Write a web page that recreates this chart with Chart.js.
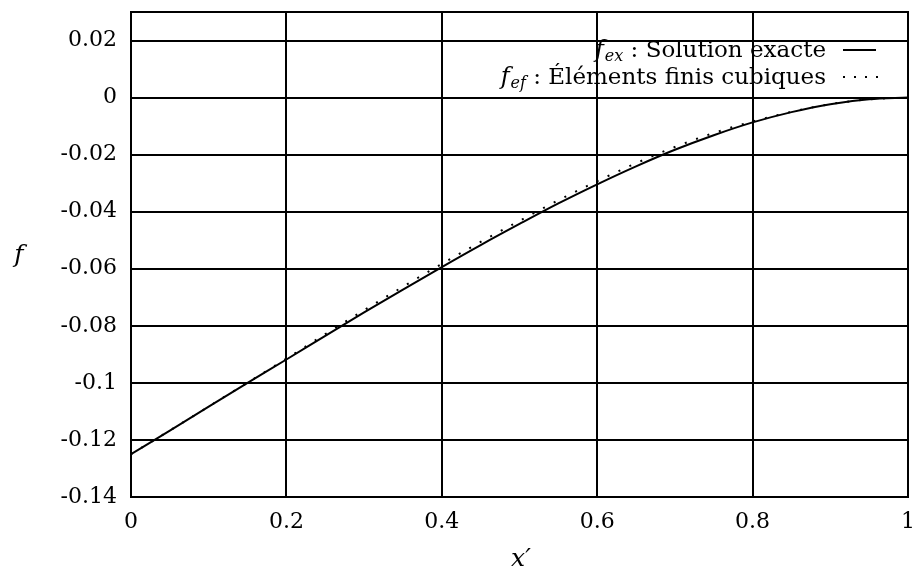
<!DOCTYPE html>
<html>
<head>
<meta charset="utf-8">
<script src="https://cdn.jsdelivr.net/npm/chart.js@4.4.0/dist/chart.umd.min.js"></script>
<style>
  html, body { margin: 0; padding: 0; background: #fff; }
  #wrap { width: 915px; height: 572px; }
</style>
</head>
<body>
<div id="wrap"><canvas id="chart" width="915" height="572"></canvas></div>
<script>
// x' positions
const xValues = [0, 0.05, 0.1, 0.15, 0.2, 0.25, 0.3, 0.35, 0.4, 0.45, 0.5,
                 0.55, 0.6, 0.65, 0.7, 0.75, 0.8, 0.85, 0.9, 0.95, 1];
// f_ex : exact solution
const exactValues = [-0.1250, -0.1167, -0.1083, -0.1000, -0.0918, -0.0835, -0.0753,
                     -0.0673, -0.0594, -0.0517, -0.0443, -0.0371, -0.0304, -0.0241,
                     -0.0183, -0.0132, -0.0087, -0.0051, -0.0023, -0.0006, 0];
// f_ef : cubic finite elements
const feValues = [-0.1250, -0.1167, -0.1083, -0.0999, -0.0915, -0.0829, -0.0745,
                  -0.0663, -0.0583, -0.0506, -0.0432, -0.0360, -0.0293, -0.0230,
                  -0.0173, -0.0124, -0.0084, -0.0050, -0.0023, -0.0006, 0];
const xTicks = [0, 0.2, 0.4, 0.6, 0.8, 1];
const yTicks = [-0.14, -0.12, -0.1, -0.08, -0.06, -0.04, -0.02, 0, 0.02];

const legendItems = [
  { sub: 'ex', text: ' : Solution exacte', dash: [] },
  { sub: 'ef', text: ' : Éléments finis cubiques', dash: [2, 9] }
];

const SERIF = '"DejaVu Serif", "Liberation Serif", serif';
const fmt = v => String(Math.round(v * 100) / 100);

const overlay = {
  id: 'overlay',
  afterDraw(chart) {
    const ctx = chart.ctx;
    const a = chart.chartArea;
    ctx.save();
    // frame
    ctx.strokeStyle = '#000';
    ctx.lineWidth = 2;
    ctx.strokeRect(a.left, a.top, a.right - a.left, a.bottom - a.top);

    // axis titles
    ctx.fillStyle = '#000';
    ctx.textBaseline = 'alphabetic';
    ctx.font = 'italic 25px ' + SERIF;
    ctx.textAlign = 'center';
    ctx.fillText('f', 19, 262);
    ctx.fillText('x′', 521, 566);

    // legend, right-aligned text, then line sample
    const textRight = 826;
    const rows = [57, 84];
    legendItems.forEach((it, i) => {
      const y = rows[i];
      ctx.textAlign = 'left';
      ctx.font = '23px ' + SERIF;
      const wText = ctx.measureText(it.text).width;
      ctx.font = 'italic 16px ' + SERIF;
      const wSub = ctx.measureText(it.sub).width;
      ctx.font = 'italic 24px ' + SERIF;
      const wF = ctx.measureText('f').width;
      let x = textRight - wText - wSub - wF - 1;
      ctx.fillText('f', x, y);
      x += wF + 1;
      ctx.font = 'italic 16px ' + SERIF;
      ctx.fillText(it.sub, x, y + 4);
      x += wSub;
      ctx.font = '23px ' + SERIF;
      ctx.fillText(it.text, x, y);

      ctx.beginPath();
      ctx.setLineDash(it.dash);
      ctx.lineWidth = 2;
      ctx.moveTo(843, y - 7);
      ctx.lineTo(i === 0 ? 876 : 886, y - 7);
      ctx.stroke();
      ctx.setLineDash([]);
    });
    ctx.restore();
  }
};

new Chart(document.getElementById('chart'), {
  type: 'line',
  data: {
    datasets: [
      {
        label: 'f_ex : Solution exacte',
        data: xValues.map((x, i) => ({ x, y: exactValues[i] })),
        borderColor: '#000',
        borderWidth: 2,
        pointRadius: 0,
        cubicInterpolationMode: 'monotone'
      },
      {
        label: 'f_ef : Éléments finis cubiques',
        data: xValues.map((x, i) => ({ x, y: feValues[i] })),
        borderColor: '#000',
        borderWidth: 2,
        borderDash: [2, 10],
        borderCapStyle: 'butt',
        pointRadius: 0,
        cubicInterpolationMode: 'monotone'
      }
    ]
  },
  options: {
    responsive: false,
    animation: false,
    events: [],
    layout: { padding: { top: 12, right: 7, left: 0, bottom: 0 } },
    plugins: { legend: { display: false }, tooltip: { enabled: false } },
    scales: {
      x: {
        type: 'linear',
        min: 0,
        max: 1,
        afterFit: s => { s.height = 75; s.paddingLeft = 0; s.paddingRight = 0; },
        afterBuildTicks: s => { s.ticks = xTicks.map(v => ({ value: v })); },
        grid: { color: '#000', lineWidth: 2, drawTicks: false },
        border: { color: '#000', width: 2 },
        ticks: {
          color: '#000',
          padding: 12,
          maxRotation: 0,
          font: { family: SERIF, size: 22 },
          callback: v => fmt(v)
        }
      },
      y: {
        type: 'linear',
        min: -0.14,
        max: 0.03,
        afterFit: s => { s.width = 131; s.paddingTop = 0; s.paddingBottom = 0; },
        afterBuildTicks: s => { s.ticks = yTicks.map(v => ({ value: v })); },
        grid: { color: '#000', lineWidth: 2, drawTicks: false },
        border: { color: '#000', width: 2 },
        ticks: {
          color: '#000',
          padding: 14,
          font: { family: SERIF, size: 22 },
          callback: v => fmt(v)
        }
      }
    }
  },
  plugins: [overlay]
});
</script>
</body>
</html>
